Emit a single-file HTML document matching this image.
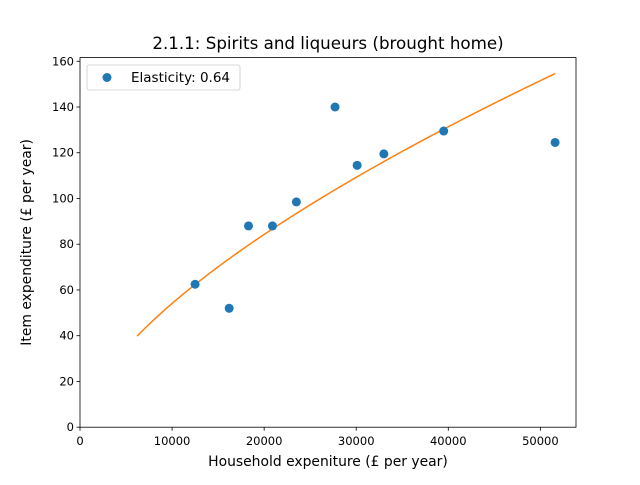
<!DOCTYPE html>
<html><head><meta charset="utf-8"><style>
body{margin:0;background:#fff;}
svg text{font-family:"DejaVu Sans","Liberation Sans",sans-serif;}
</style></head><body>
<svg id="chart" width="640" height="480" xmlns="http://www.w3.org/2000/svg">
<rect width="640" height="480" fill="#fff"/>
<text x="328" y="49" font-size="16.7" text-anchor="middle">2.1.1: Spirits and liqueurs (brought home)</text>
<g id="plot"></g>
<rect x="80" y="57.6" width="496" height="369.6" fill="none" stroke="#000" stroke-width="0.8"/>
<text x="328" y="466" font-size="13.9" text-anchor="middle">Household expeniture (£ per year)</text>
<text transform="translate(31,242.4) rotate(-90)" font-size="13.9" text-anchor="middle">Item expenditure (£ per year)</text>
<g>
<rect x="87" y="65" width="153" height="25" rx="2" fill="#fff" stroke="#ccc" stroke-width="0.8"/>
<circle cx="107" cy="77.5" r="4.5" fill="#1f77b4"/>
<text x="131" y="82" font-size="13.5">Elasticity: 0.64</text>
</g>
</svg>
<script>
const xs=[12500,16200,18300,20900,23500,27700,30100,33000,39500,51600];
const ys=[62.5,52,88,88,98.5,140,114.5,119.5,129.5,124.5];
const xTicks=[0,10000,20000,30000,40000,50000];
const yTicks=[0,20,40,60,80,100,120,140,160];
const elasticity=0.64;
const fitEnd=154.6;
const fitRange=[6200,51600];
const X0=80,X1=576,Y0=427.2,Y1=57.6,XMAX=53870,YMAX=161.6;
const sx=v=>X0+v/XMAX*(X1-X0), sy=v=>Y0-v/YMAX*(Y0-Y1);
const NS="http://www.w3.org/2000/svg", g=document.getElementById('plot');
function mk(t,a){const e=document.createElementNS(NS,t);for(const k in a)e.setAttribute(k,a[k]);g.appendChild(e);return e;}
xTicks.forEach(t=>{const x=sx(t);
 const l=mk('line',{x1:x,x2:x,y1:Y0,y2:Y0+3.5,stroke:'#000','stroke-width':0.8});
 
 
 const tx=mk('text',{x:x,y:Y0+18,'font-size':11.5,'text-anchor':'middle'});tx.textContent=t;
 
 });
yTicks.forEach(t=>{const y=sy(t);
 const l=mk('line',{x1:X0-3.5,x2:X0,y1:y,y2:y,stroke:'#000','stroke-width':0.8});
 
 
 const tx=mk('text',{x:X0-6,y:y+4,'font-size':11.5,'text-anchor':'end'});tx.textContent=t;
 
 });
const a=fitEnd/Math.pow(fitRange[1],elasticity);let d='';
for(let i=0;i<=100;i++){const x=fitRange[0]+(fitRange[1]-fitRange[0])*i/100;d+=(i?'L':'M')+sx(x).toFixed(2)+','+sy(a*Math.pow(x,elasticity)).toFixed(2);}
const p=mk('path',{d:d,fill:'none',stroke:'#ff7f0e','stroke-width':1.5});


xs.forEach((x,i)=>{const c=mk('circle',{cx:sx(x),cy:sy(ys[i]),r:4.5,fill:'#1f77b4'});
 
 });
</script>
</body></html>
